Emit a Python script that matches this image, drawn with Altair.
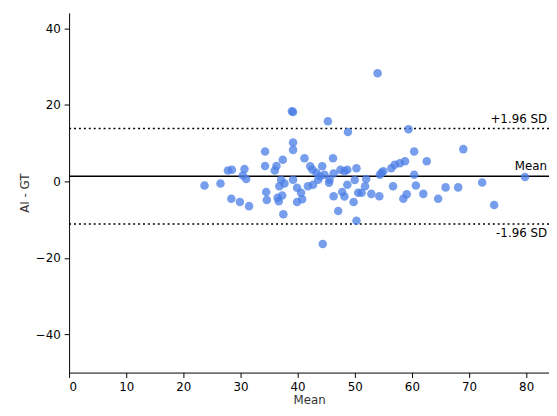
import altair as alt
import pandas as pd

# Bland-Altman: mean of AI and GT vs difference
mean_vals = [23.7, 26.5, 28.4, 27.8, 28.5, 29.9, 30.7, 30.4, 31.0, 31.5, 34.3, 34.3, 34.5, 34.6,
             36.0, 36.3, 36.5, 36.7, 36.8, 37.1, 37.3, 37.4, 37.5, 37.7, 39.0, 39.2, 39.2, 39.2,
             39.2, 39.9, 39.9, 40.6, 40.8, 41.2, 41.8, 42.2, 42.6, 42.7, 43.3, 43.6, 43.9, 44.3,
             44.4, 44.7, 45.3, 45.5, 45.6, 46.2, 46.3, 46.3, 47.1, 47.5, 47.8, 48.2, 48.2, 48.7,
             48.8, 48.7, 49.8, 50.0, 50.3, 50.3, 50.6, 54.0, 52.0, 51.8, 51.2, 52.9, 54.3, 54.4,
             54.7, 55.0, 56.4, 57.0, 57.9, 58.8, 56.7, 58.5, 59.1, 59.4, 60.4, 60.4, 60.7, 62.0,
             62.6, 64.6, 65.9, 68.1, 69.0, 72.3, 74.4, 79.8]
diff_vals = [-1.1, -0.6, -4.6, 2.8, 3.0, -5.4, 3.2, 1.5, 0.6, -6.5, 7.8, 4.0, -2.8, -4.9,
             2.8, 4.0, -4.3, -5.2, -1.3, 0.4, -3.7, 5.6, -8.6, -0.6, 18.3, 18.1, 10.1, 8.2,
             0.4, -1.7, -5.4, -3.0, -4.7, 6.0, -1.3, 3.9, 3.0, -0.9, 2.2, 0.4, 1.3, 3.9,
             -16.4, 1.7, 15.7, -0.4, 0.4, 6.0, 2.0, -3.9, -7.8, 3.0, -2.8, 2.6, -4.0, 3.0,
             12.9, -0.9, -5.4, 0.3, 3.4, -10.3, -3.0, 28.2, 0.6, -1.3, -3.0, -3.3, -3.9, 1.7,
             2.2, 2.6, 3.4, 4.3, 4.7, 5.2, -1.3, -4.6, -3.4, 13.6, 1.7, 7.8, -1.1, -3.3,
             5.2, -4.6, -1.6, -1.6, 8.4, -0.3, -6.2, 1.1]

line_names = ["+1.96 SD", "Mean", "-1.96 SD"]
line_values = [13.8, 1.3, -11.2]

W, H = 487, 365
pts = pd.DataFrame({"Mean": mean_vals, "Diff": diff_vals})
lines = pd.DataFrame({"name": line_names, "y": line_values})

xs = alt.Scale(domain=[0, 84], nice=False)
ys = alt.Scale(domain=[-50, 44], nice=False)

points = alt.Chart(pts).mark_circle(size=75, opacity=0.75, color="#4a7ee6").encode(
    x=alt.X("Mean:Q", scale=xs, axis=alt.Axis(values=list(range(0, 90, 10)), title="Mean", titlePadding=2)),
    y=alt.Y("Diff:Q", scale=ys, axis=alt.Axis(values=[-40, -20, 0, 20, 40], title="AI - GT")),
)

base = alt.Chart(lines)
mean_line = base.transform_filter(alt.datum.name == "Mean").mark_rule(color="black", strokeWidth=1.5).encode(
    y=alt.Y("y:Q", scale=ys))
sd_lines = base.transform_filter(alt.datum.name != "Mean").mark_rule(
    color="black", strokeWidth=1.5, strokeDash=[2, 3]).encode(y=alt.Y("y:Q", scale=ys))

labels_top = base.transform_filter(alt.datum.name != "-1.96 SD").mark_text(
    align="right", baseline="bottom", dy=-3, fontSize=12, font="DejaVu Sans", color="black").encode(
    x=alt.value(W - 2), y=alt.Y("y:Q", scale=ys), text="name:N")
labels_bot = base.transform_filter(alt.datum.name == "-1.96 SD").mark_text(
    align="right", baseline="top", dy=4, fontSize=12, font="DejaVu Sans", color="black").encode(
    x=alt.value(W - 2), y=alt.Y("y:Q", scale=ys), text="name:N")

chart = (sd_lines + mean_line + points + labels_top + labels_bot).properties(
    width=W, height=H, autosize=alt.AutoSizeParams(type="none"),
    padding={"left": 62, "top": 2, "right": 0, "bottom": 34},
).configure_view(stroke=None).configure_axis(
    grid=False, domainColor="black", tickColor="black", labelColor="black", titleColor="#333",
    labelFont="DejaVu Sans", titleFont="DejaVu Sans", labelFontSize=12, titleFontSize=12,
    titleFontWeight="normal", labelPadding=4,
)

chart.save("out.html", embed_options={"renderer": "svg", "actions": False})
